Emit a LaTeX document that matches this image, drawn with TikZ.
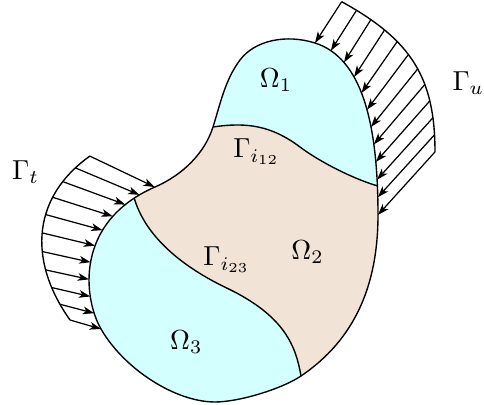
\documentclass[tikz,border=0pt]{standalone}
\usetikzlibrary{arrows.meta,decorations.markings}
\definecolor{omcyan}{RGB}{212,255,255}
\definecolor{omtan}{RGB}{242,227,215}
\begin{document}
\begin{tikzpicture}[x=0.3636pt,y=-0.3636pt,line width=0.5pt,
  load/.style={line width=0.45pt,-{Stealth[length=4.1pt,width=2.8pt,inset=1.1pt]}},
  lbl/.style={inner sep=0pt}]
\useasboundingbox (0,0) rectangle (484,405);
% key points of the body boundary
\coordinate (A) at (213,127);
\coordinate (M) at (240,60);
\coordinate (B) at (315,43);
\coordinate (C) at (378,215);
\coordinate (D) at (301,376);
\coordinate (Q) at (215,402);
\coordinate (E) at (101,329);
\coordinate (F) at (155,187);
% control points
\coordinate (am1) at (220.5,103.3); \coordinate (am2) at (225,80);
\coordinate (mb1) at (255,40);      \coordinate (mb2) at (286.5,34);
\coordinate (bc1) at (362.2,57.9);  \coordinate (bc2) at (378,123.8);
\coordinate (cd1) at (378,285);     \coordinate (cd2) at (354.9,339.6);
\coordinate (dq1) at (281.7,389);   \coordinate (dq2) at (238.8,402);
\coordinate (qe1) at (175.5,402);   \coordinate (qe2) at (124.2,369.2);
\coordinate (ef1) at (83.7,299);    \coordinate (ef2) at (73.6,222.4);
\coordinate (fa1) at (183.5,174.6); \coordinate (fa2) at (205,152.4);
\def\blob{(A) .. controls (am1) and (am2) .. (M) .. controls (mb1) and (mb2) .. (B)
 .. controls (bc1) and (bc2) .. (C) .. controls (cd1) and (cd2) .. (D)
 .. controls (dq1) and (dq2) .. (Q) .. controls (qe1) and (qe2) .. (E)
 .. controls (ef1) and (ef2) .. (F) .. controls (fa1) and (fa2) .. (A) -- cycle}
% interface end points on the boundary
\path (B) .. controls (bc1) and (bc2) .. (C) coordinate[pos=0.89] (P2);
\path (E) .. controls (ef1) and (ef2) .. (F) coordinate[pos=0.905] (P4);
% interface curves
\coordinate (I1) at (300,147);
\coordinate (I2) at (226.7,288);
\def\ifaceA{(A) .. controls (247.6,121.8) and (272,126) .. (I1)
  .. controls (320,162) and (353.4,178.9) .. (P2)}
\def\ifaceB{(P4) .. controls (148.3,246.1) and (199.7,275.1) .. (I2)
  .. controls (285.2,316) and (295.9,346.6) .. (D)}
% fills
\fill[omtan] \blob;
\begin{scope}
\clip \blob;
\fill[omcyan] \ifaceA -- (430,186) -- (430,-10) -- (200,-10) -- (200,127) -- cycle;
\fill[omcyan] \ifaceB -- (301,420) -- (0,420) -- (0,190) -- (134,190) -- cycle;
\end{scope}
% interfaces
\draw \ifaceA;
\draw \ifaceB;
% outline
\draw[line join=round] \blob;
% load on Gamma_u
\coordinate (U0) at (341.7,1.7); \coordinate (U1) at (411.7,40.2);
\coordinate (U2) at (435,78);    \coordinate (U3) at (435,152);
\draw (U0) .. controls (U1) and (U2) .. (U3);
\path[decorate,decoration={markings,mark=between positions 0 and 1 step 0.09088 with
  {\coordinate (us\pgfkeysvalueof{/pgf/decoration/mark info/sequence number});}}]
  (U0) .. controls (U1) and (U2) .. (U3);
\path[decorate,decoration={markings,mark=between positions 0 and 1 step 0.09088 with
  {\coordinate (ut\pgfkeysvalueof{/pgf/decoration/mark info/sequence number});}}]
  (B) .. controls (bc1) and (bc2) .. (C);
\foreach \k in {1,...,12} \draw[load] (us\k) -- (ut\k);
% load on Gamma_t
\coordinate (T0) at (70,320);   \coordinate (T1) at (26.2,258.1);
\coordinate (T2) at (33.8,195.8); \coordinate (T3) at (90,156);
\draw (T0) .. controls (T1) and (T2) .. (T3);
\path[decorate,decoration={markings,mark=between positions 0 and 1 step 0.0999 with
  {\coordinate (ts\pgfkeysvalueof{/pgf/decoration/mark info/sequence number});}}]
  (T0) .. controls (T1) and (T2) .. (T3);
\path[decorate,decoration={markings,mark=between positions 0 and 1 step 0.0999 with
  {\coordinate (tt\pgfkeysvalueof{/pgf/decoration/mark info/sequence number});}}]
  (E) .. controls (ef1) and (ef2) .. (F);
\foreach \k in {1,...,11} \draw[load] (ts\k) -- (tt\k);
% labels
\node[lbl] (o1) at (276,80) {$\Omega_1$};
\node[lbl] (g12) at (256.5,152) {$\Gamma_{i_{12}}$};
\node[lbl] (o2) at (307.5,252) {$\Omega_2$};
\node[lbl] (g23) at (226.7,260) {$\Gamma_{i_{23}}$};
\node[lbl] (o3) at (186.3,341.7) {$\Omega_3$};
\node[lbl] (gu) at (468.3,83) {$\Gamma_u$};
\node[lbl] (gt) at (25.5,172) {$\Gamma_t$};
\end{tikzpicture}
\end{document}
